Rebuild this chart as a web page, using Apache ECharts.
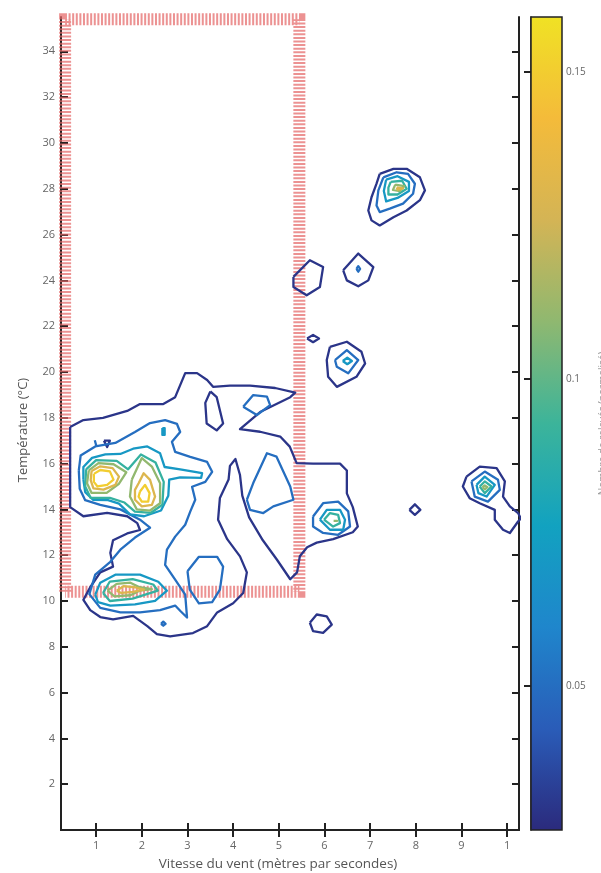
<!DOCTYPE html>
<html><head><meta charset="utf-8">
<script src="https://cdn.jsdelivr.net/npm/echarts@6/dist/echarts.min.js"></script>
<style>html,body{margin:0;padding:0;background:#fff}#c{width:601px;height:873px}</style>
</head><body><div id="c"></div>
<script>
// ---- axes & ticks ----
const xRange = [0.23, 10.26];
const yRange = [0, 35.5];
const xTicks = [1,2,3,4,5,6,7,8,9,10];
const xTickLabels = ['1','2','3','4','5','6','7','8','9','1'];
const yTicks = [2,4,6,8,10,12,14,16,18,20,22,24,26,28,30,32,34];
const cbRange = [0.0265, 0.159];
const cbTicks = [0.05, 0.1, 0.15];
const cbTickLabels = ['0.05', '0.1', '0.15'];
const levels = [0.03, 0.05, 0.07, 0.09, 0.11, 0.13, 0.15];
// red hatched zone
const zoneX = [0.32, 5.45];
const zoneY = [10.4, 35.4];

// ---- contour lines (wind speed, temperature) ----
const mainL0 = [[0.43,17.6],[0.72,17.9],[1.15,18.0],[1.68,18.3],[1.96,18.6],[2.47,18.6],[2.73,18.9],[2.95,19.95],[3.21,19.95],[3.43,19.65],[3.56,19.35],[3.93,19.4],[4.37,19.4],[4.92,19.3],[5.36,19.1],[5.25,18.9],[4.59,18.25],[4.15,17.5],[4.59,17.39],[5.03,17.18],[5.24,16.74],[5.39,16.02],[5.75,16.0],[6.34,16.0],[6.49,15.7],[6.49,14.7],[6.62,14.1],[6.73,13.25],[6.62,13.0],[6.19,12.7],[5.83,12.55],[5.62,12.35],[5.46,11.95],[5.40,11.25],[5.25,10.95],[4.96,11.8],[4.65,12.65],[4.35,13.65],[4.2,14.6],[4.15,15.5],[4.05,16.2],[3.93,15.9],[3.9,15.3],[3.71,14.5],[3.67,13.55],[3.87,12.7],[4.15,11.95],[4.30,11.25],[4.22,10.35],[4.0,9.9],[3.65,9.5],[3.43,8.9],[3.12,8.6],[2.62,8.45],[2.33,8.55],[2.12,8.9],[1.81,9.35],[1.37,9.2],[1.09,9.3],[0.87,9.6],[0.72,10.05],[0.87,10.6],[1.09,11.25],[1.37,11.5],[1.31,12.1],[1.37,12.65],[1.68,12.95],[1.96,13.1],[1.90,13.4],[1.68,13.7],[1.24,13.85],[0.72,13.7],[0.43,14.1]];
const holeL0 = [[3.5,19.15],[3.64,18.9],[3.78,17.75],[3.64,17.45],[3.42,17.75],[3.39,18.65]];
const dropL0 = [[1.17,17.0],[1.30,17.0],[1.24,16.72]];
const dotL1a = [[0.97,17.02],[1.01,17.02],[1.0,16.8],[0.98,16.8]];
const dotL2 = [[2.45,17.55],[2.5,17.55],[2.5,17.25],[2.45,17.25]];
const dotL1b = [[2.42,9.0],[2.47,9.1],[2.52,9.0],[2.47,8.92]];
const mainL1 = [[0.62,15.7],[0.66,16.35],[0.98,16.75],[1.42,16.9],[1.85,17.38],[2.18,17.77],[2.51,17.9],[2.77,17.73],[2.84,17.38],[2.66,16.95],[2.73,16.51],[3.06,16.29],[3.43,16.07],[3.54,15.64],[3.39,15.2],[3.10,14.99],[3.17,14.42],[3.06,13.9],[2.95,13.33],[2.73,12.81],[2.55,12.24],[2.51,11.58],[2.73,10.93],[2.95,10.28],[2.99,9.28],[2.85,9.55],[2.73,9.8],[2.40,9.6],[1.96,9.5],[1.53,9.5],[1.09,9.7],[0.85,10.3],[0.98,11.15],[1.31,11.71],[1.53,12.24],[1.85,12.77],[2.18,13.2],[1.96,13.55],[1.53,14.0],[1.09,14.2],[0.76,14.4],[0.64,14.9]];
const upperL2 = [[0.72,15.3],[0.72,15.85],[0.91,16.25],[1.2,16.4],[1.53,16.42],[1.81,16.65],[2.12,16.75],[2.4,16.45],[2.5,15.85],[2.84,15.75],[3.32,15.58],[3.3,15.38],[2.84,15.4],[2.6,15.3],[2.58,14.6],[2.42,13.95],[2.05,13.7],[1.74,13.78],[1.5,14.25],[1.26,14.4],[0.93,14.42],[0.76,14.75]];
const upperL3 = [[0.78,15.75],[1.0,16.15],[1.45,16.12],[1.7,15.75],[1.98,16.4],[2.3,16.05],[2.48,15.2],[2.45,14.2],[2.2,13.85],[1.85,13.9],[1.62,14.3],[1.3,14.5],[0.88,14.5],[0.76,15.0]];
const peakAL4 = [[0.84,15.7],[1.05,16.02],[1.38,15.97],[1.66,15.62],[1.5,15.12],[1.23,14.72],[0.9,14.72],[0.8,15.14]];
const peakAL5 = [[0.9,15.68],[1.09,15.88],[1.36,15.8],[1.5,15.43],[1.42,15.07],[1.16,14.86],[0.94,14.92],[0.88,15.28]];
const peakAL6 = [[0.95,15.55],[1.09,15.72],[1.30,15.66],[1.38,15.3],[1.24,15.07],[1.03,15.0],[0.95,15.2]];
const peakBL4 = [[1.78,15.29],[2.0,16.24],[2.22,15.87],[2.40,15.14],[2.40,14.27],[2.18,13.95],[1.89,14.0],[1.74,14.56]];
const peakBL5 = [[1.93,15.14],[2.04,15.58],[2.18,15.29],[2.29,14.56],[2.22,14.2],[2.0,14.13],[1.85,14.42],[1.85,14.85]];
const peakBL6 = [[1.96,14.78],[2.07,15.07],[2.17,14.71],[2.14,14.34],[2.0,14.34],[1.93,14.56]];
const lowL2 = [[0.98,10.28],[1.09,10.8],[1.42,11.15],[1.96,11.15],[2.36,10.84],[2.55,10.45],[2.29,10.0],[1.85,9.85],[1.31,9.8],[1.04,9.95]];
const lowL3 = [[1.15,10.35],[1.3,10.85],[1.8,10.95],[2.25,10.72],[2.35,10.45],[1.8,10.1],[1.3,10.0]];
const lowL4 = [[1.25,10.45],[1.45,10.75],[1.75,10.8],[1.95,10.6],[2.22,10.52],[1.95,10.45],[1.75,10.25],[1.4,10.2]];
const lowL5 = [[1.45,10.45],[1.6,10.65],[1.85,10.6],[2.05,10.5],[1.8,10.4],[1.55,10.35]];
const loopMidL1 = [[3.0,11.3],[3.25,11.93],[3.65,11.93],[3.78,11.5],[3.71,10.5],[3.54,9.95],[3.25,9.9],[3.05,10.5]];
const loopRightL1 = [[4.30,14.42],[4.44,15.15],[4.74,16.45],[4.95,16.3],[5.25,15.0],[5.32,14.42],[4.88,14.13],[4.66,13.84],[4.37,13.98]];
const loopTopL1 = [[4.22,18.48],[4.44,18.99],[4.74,18.92],[4.81,18.55],[4.52,18.12]];
const b28L0 = [[7.21,28.65],[7.51,28.87],[7.80,28.87],[8.09,28.5],[8.20,27.93],[8.09,27.5],[7.80,27.05],[7.51,26.76],[7.21,26.4],[7.03,26.62],[6.96,27.05],[7.03,27.63],[7.14,28.22]];
const b28L1 = [[7.29,28.5],[7.58,28.72],[7.83,28.65],[7.98,28.22],[7.94,27.78],[7.72,27.35],[7.43,27.13],[7.21,26.98],[7.14,27.27],[7.18,27.93]];
const b28L2 = [[7.35,28.4],[7.6,28.55],[7.85,28.3],[7.85,27.9],[7.6,27.6],[7.35,27.45],[7.3,27.9]];
const b28L3 = [[7.45,28.3],[7.7,28.35],[7.8,28.0],[7.6,27.75],[7.4,27.75],[7.4,28.05]];
const b28L4 = [[7.55,28.18],[7.75,28.12],[7.65,27.9],[7.5,27.95]];
const b28L5 = [[7.58,28.06],[7.72,28.02],[7.6,27.96]];
const b24L0 = [[6.41,24.44],[6.74,25.17],[7.07,24.58],[6.96,24.0],[6.74,23.74],[6.49,24.0]];
const b24L1 = [[6.7,24.5],[6.74,24.62],[6.78,24.5],[6.74,24.38]];
const b24wL0 = [[5.32,24.15],[5.68,24.88],[5.97,24.58],[5.90,23.71],[5.61,23.35],[5.32,23.71]];
const d21L0 = [[5.62,21.46],[5.75,21.62],[5.88,21.46],[5.75,21.30]];
const b20L0 = [[6.12,21.1],[6.49,21.32],[6.81,20.88],[6.89,20.37],[6.70,19.79],[6.27,19.35],[6.08,19.79],[6.05,20.52]];
const b20L1 = [[6.23,20.52],[6.49,20.95],[6.74,20.52],[6.52,19.94],[6.27,20.23]];
const b20L2 = [[6.4,20.48],[6.5,20.62],[6.6,20.48],[6.5,20.34]];
const b13L1 = [[5.75,13.69],[5.97,14.27],[6.30,14.34],[6.52,13.91],[6.56,13.25],[6.30,12.89],[5.97,12.97],[5.75,13.25]];
const b13L2 = [[5.90,13.55],[6.05,13.98],[6.34,13.98],[6.45,13.55],[6.41,13.11],[6.12,13.11]];
const b13L3 = [[5.99,13.55],[6.12,13.84],[6.30,13.76],[6.34,13.4],[6.19,13.25]];
const b13L4 = [[6.2,13.5],[6.24,13.56],[6.28,13.5],[6.24,13.44]];
const b15L0 = [[9.11,15.43],[9.40,15.87],[9.77,15.80],[9.95,15.22],[9.91,14.56],[10.06,14.13],[10.24,13.84],[10.3,13.6],[10.24,13.47],[10.06,12.97],[9.91,13.11],[9.73,13.55],[9.73,13.98],[9.40,14.27],[9.18,14.49],[9.03,15.0]];
const b15L1 = [[9.22,15.22],[9.51,15.65],[9.80,15.29],[9.84,14.85],[9.58,14.34],[9.29,14.56]];
const b15L2 = [[9.33,15.07],[9.51,15.43],[9.73,15.07],[9.55,14.56],[9.37,14.71]];
const b15L3 = [[9.40,15.0],[9.51,15.22],[9.66,15.0],[9.51,14.71]];
const b15L4 = [[9.46,14.97],[9.51,15.05],[9.57,14.97],[9.51,14.88]];
const d14L0 = [[7.86,13.98],[7.98,14.22],[8.1,13.98],[7.98,13.76]];
const b9L0 = [[5.68,9.05],[5.83,9.41],[6.05,9.33],[6.16,8.97],[5.97,8.61],[5.75,8.68]];

// [level index, line]
const contours = [
  [0, mainL0],[0, holeL0],[0, dropL0],[0, b28L0],[0, b24L0],[0, b24wL0],[0, d21L0],[0, b20L0],[0, b15L0],[0, d14L0],[0, b9L0],
  [1, mainL1],[1, dotL1a],[1, dotL1b],[1, loopMidL1],[1, loopRightL1],[1, loopTopL1],[1, b28L1],[1, b24L1],[1, b20L1],[1, b13L1],[1, b15L1],
  [2, upperL2],[2, dotL2],[2, lowL2],[2, b28L2],[2, b20L2],[2, b13L2],[2, b15L2],
  [3, upperL3],[3, lowL3],[3, b28L3],[3, b13L3],[3, b15L3],
  [4, peakAL4],[4, peakBL4],[4, lowL4],[4, b28L4],[4, b13L4],[4, b15L4],
  [5, peakAL5],[5, peakBL5],[5, lowL5],[5, b28L5],
  [6, peakAL6],[6, peakBL6]
];

// parula-like colormap (as seen on the scanned colour bar)
const cmapStops = ['#2b2a7c','#2a5cb8','#1f86cc','#12a2c0','#3cb49a','#8fb870','#d4b455','#f4bb3a','#f0e224'];
function hex2rgb(h){return [1,3,5].map(i=>parseInt(h.substr(i,2),16));}
function cmap(v){
  let t = (v - cbRange[0])/(cbRange[1]-cbRange[0]);
  t = Math.max(0, Math.min(1, t));
  const n = cmapStops.length - 1;
  const i = Math.min(n-1, Math.floor(t*n));
  const f = t*n - i;
  const a = hex2rgb(cmapStops[i]), b = hex2rgb(cmapStops[i+1]);
  const c = a.map((x,k)=>Math.round(x+(b[k]-x)*f));
  return 'rgb('+c.join(',')+')';
}

const FONT = 'Open Sans';
const series = [];
// hatched zone
series.push({
  type:'line', xAxisIndex:0, yAxisIndex:0, clip:false, silent:true, symbol:'none', z:1,
  data:[[zoneX[0],zoneY[0]],[zoneX[0],zoneY[1]],[zoneX[1],zoneY[1]],[zoneX[1],zoneY[0]],[zoneX[0],zoneY[0]]],
  lineStyle:{color:'rgba(228,104,104,0.72)', width:12, type:[2,1.6], cap:'butt', join:'miter'}
});
contours.forEach(([li, pts])=>{
  series.push({
    type:'line', xAxisIndex:0, yAxisIndex:0, clip:true, silent:true, symbol:'none', showSymbol:false, z:3+li,
    data: pts.concat([pts[0]]),
    lineStyle:{color:cmap(levels[li]), width:2.3, join:'round'}
  });
});
// colorbar
const stops = [];
for (let i=0;i<cmapStops.length;i++) stops.push({offset:i/(cmapStops.length-1), color:cmapStops[i]});
series.push({
  type:'custom', xAxisIndex:2, yAxisIndex:2, silent:true, z:2,
  data:[[0, cbRange[0]]],
  renderItem:(params, api)=>{
    const p0 = api.coord([0, cbRange[1]]);
    const p1 = api.coord([1, cbRange[0]]);
    return {type:'rect', shape:{x:p0[0], y:p0[1], width:p1[0]-p0[0], height:p1[1]-p0[1]},
      style:{fill:new echarts.graphic.LinearGradient(0,1,0,0,stops), stroke:'#222', lineWidth:1.5}};
  }
});

const axisLineStyle = {color:'#222', width:2};
const tickStyle = {color:'#222', width:2};
const chart = echarts.init(document.getElementById('c'), null, {renderer:'canvas'});
chart.setOption({
  animation:false,
  backgroundColor:'#fff',
  grid:[
    {left:61, top:17, width:458, height:813, outerBoundsMode:'none', containLabel:false},
    {left:531, top:17, width:31, height:813, outerBoundsMode:'none', containLabel:false}
  ],
  xAxis:[
    {gridIndex:0, type:'value', min:xRange[0], max:xRange[1], position:'bottom',
     axisLine:{lineStyle:axisLineStyle}, splitLine:{show:false},
     axisTick:{inside:true, length:7, lineStyle:tickStyle, customValues:xTicks},
     axisLabel:{customValues:xTicks, formatter:v=>xTickLabels[xTicks.indexOf(Math.round(v))], color:'#666', fontSize:11, fontFamily:FONT, margin:10},
     name:'Vitesse du vent (mètres par secondes)', nameLocation:'middle', nameGap:27,
     nameTextStyle:{color:'#555', fontSize:13.5, fontFamily:FONT, padding:[0,24,0,0]}},
    {gridIndex:0, type:'value', min:xRange[0], max:xRange[1], position:'top',
     axisLine:{lineStyle:axisLineStyle}, splitLine:{show:false},
     axisTick:{inside:true, length:7, lineStyle:tickStyle, customValues:xTicks},
     axisLabel:{show:false}},
    {gridIndex:1, type:'value', min:0, max:1, show:false}
  ],
  yAxis:[
    {gridIndex:0, type:'value', min:yRange[0], max:yRange[1], position:'left',
     axisLine:{lineStyle:axisLineStyle}, splitLine:{show:false},
     axisTick:{inside:true, length:7, lineStyle:tickStyle, customValues:yTicks},
     axisLabel:{customValues:yTicks, color:'#666', fontSize:11, fontFamily:FONT, margin:6},
     name:'Température (°C)', nameLocation:'middle', nameGap:31, nameRotate:90,
     nameTextStyle:{color:'#555', fontSize:13, fontFamily:FONT, padding:[0,13,0,0]}},
    {gridIndex:0, type:'value', min:yRange[0], max:yRange[1], position:'right',
     axisLine:{lineStyle:axisLineStyle}, splitLine:{show:false},
     axisTick:{inside:true, length:7, lineStyle:tickStyle, customValues:yTicks},
     axisLabel:{show:false}},
    {gridIndex:1, type:'value', min:cbRange[0], max:cbRange[1], position:'right',
     axisLine:{show:true, lineStyle:{color:'#222', width:1.5}}, splitLine:{show:false},
     axisTick:{inside:true, length:7, lineStyle:tickStyle, customValues:cbTicks},
     axisLabel:{customValues:cbTicks, formatter:v=>cbTickLabels[cbTicks.findIndex(t=>Math.abs(t-v)<1e-6)], color:'#666', fontSize:10, fontFamily:FONT, margin:4},
     name:'Nombre de relevés (normalisé)', nameLocation:'middle', nameGap:36, nameRotate:90,
     nameTextStyle:{color:'#999', fontSize:10, fontFamily:FONT}}
  ],
  series:series
});
</script></body></html>
